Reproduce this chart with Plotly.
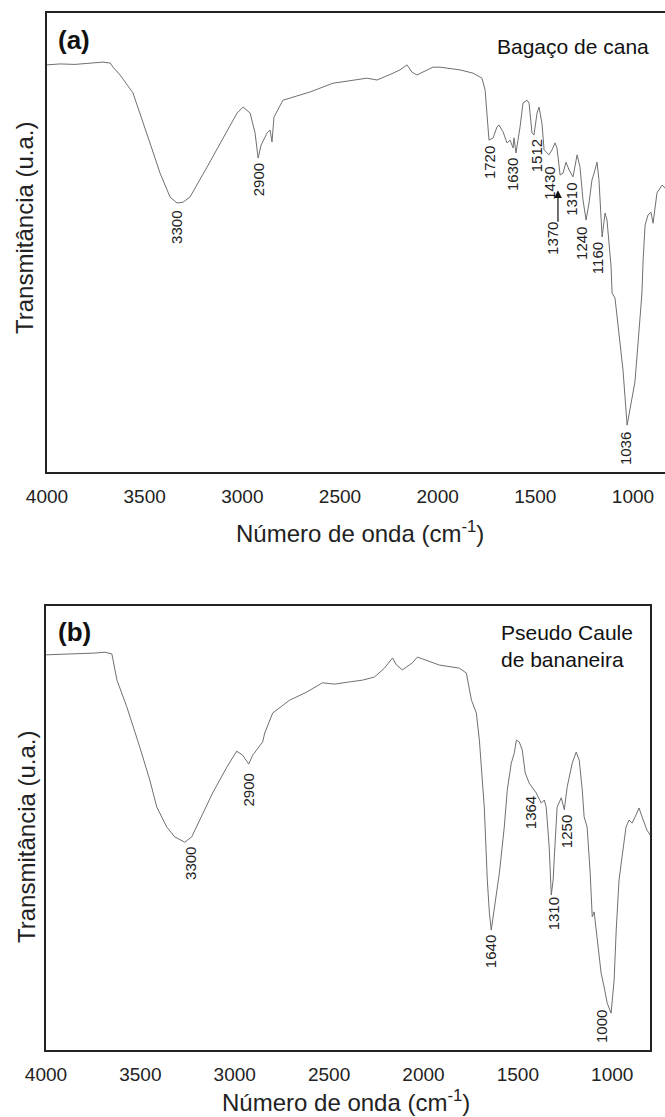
import plotly.graph_objects as go

# ---------------- data ----------------
# (a) Bagaço de cana : wavenumber (cm-1) and transmittance (u.a.)
top_wn = [4000, 3933, 3857, 3780, 3713, 3677, 3662, 3626, 3560, 3473, 3421, 3370, 3334, 3303,
          3268, 3181, 3078, 3027, 2996, 2960, 2935, 2919, 2904, 2873, 2858, 2848, 2838, 2792,
          2653, 2536, 2362, 2310, 2228, 2193, 2157, 2131, 2106, 2065, 2024, 1988, 1885, 1819,
          1773, 1757, 1737, 1716, 1696, 1686, 1665, 1645, 1629, 1614, 1609, 1599, 1578, 1563,
          1542, 1532, 1517, 1507, 1491, 1481, 1466, 1455, 1440, 1430, 1414, 1399, 1389, 1373,
          1358, 1343, 1327, 1307, 1286, 1271, 1256, 1240, 1225, 1210, 1199, 1184, 1174, 1158,
          1143, 1133, 1112, 1107, 1092, 1076, 1051, 1030, 1010, 990, 974, 954, 948, 938, 923,
          908, 897, 877, 851, 836, 821]
top_T = [88.7, 88.9, 88.8, 89.0, 89.3, 89.1, 88.2, 86.5, 82.6, 71.7, 65.1, 59.9, 58.6, 58.8,
         59.9, 66.4, 74.5, 78.2, 79.5, 78.2, 73.9, 68.4, 71.2, 73.9, 74.5, 71.9, 77.3, 81.0,
         82.8, 84.7, 85.8, 85.4, 86.9, 87.6, 88.7, 87.1, 86.5, 87.4, 88.2, 88.2, 87.6, 86.9,
         85.8, 83.2, 72.3, 72.8, 75.2, 75.6, 74.1, 71.7, 72.3, 70.6, 72.8, 69.5, 75.2, 80.4,
         81.0, 80.4, 73.9, 73.4, 78.2, 79.5, 76.0, 70.2, 69.5, 69.1, 70.2, 71.7, 70.6, 64.7,
         65.1, 67.5, 65.8, 64.3, 69.1, 66.4, 59.3, 54.9, 58.6, 63.6, 65.1, 67.5, 63.6, 51.2,
         56.4, 54.9, 44.7, 39.0, 37.9, 31.6, 22.2, 10.2, 15.0, 19.6, 28.1, 39.0, 46.2, 53.8, 56.0,
         56.6, 54.2, 60.8, 62.5, 61.9, 61.0]

# (b) Pseudo caule de bananeira
bot_wn = [4000, 3926, 3820, 3741, 3688, 3651, 3624, 3572, 3503, 3450, 3413, 3360, 3318, 3265,
          3228, 3185, 3117, 3042, 2990, 2958, 2926, 2905, 2868, 2852, 2841, 2799, 2709, 2619,
          2535, 2471, 2392, 2323, 2260, 2207, 2164, 2143, 2112, 2059, 2032, 1984, 1916, 1810,
          1773, 1746, 1720, 1704, 1678, 1662, 1651, 1641, 1625, 1614, 1598, 1572, 1556, 1535,
          1519, 1508, 1493, 1477, 1461, 1440, 1403, 1376, 1360, 1350, 1334, 1323, 1313, 1307,
          1292, 1270, 1254, 1239, 1212, 1191, 1175, 1159, 1149, 1133, 1117, 1106, 1096, 1085,
          1059, 1043, 1027, 1006, 990, 979, 964, 948, 927, 911, 895, 879, 858, 842, 816, 806, 800]
bot_T = [89.0, 89.1, 89.2, 89.4, 89.6, 89.2, 83.3, 77.3, 68.2, 60.8, 54.7, 50.2, 48.0, 46.8,
         48.0, 51.8, 57.9, 63.7, 67.3, 66.4, 64.4, 66.4, 68.7, 69.4, 71.4, 75.9, 78.8, 80.6,
         82.7, 82.4, 82.9, 83.3, 84.0, 86.0, 88.3, 86.7, 85.6, 87.2, 88.5, 87.8, 86.7, 86.0,
         84.9, 78.8, 75.9, 69.8, 54.7, 38.3, 30.9, 27.0, 32.2, 35.4, 39.9, 50.2, 58.6, 64.6,
         66.9, 69.8, 69.4, 67.6, 62.4, 60.1, 57.9, 55.6, 56.3, 54.7, 45.7, 34.9, 38.3, 43.5,
         54.7, 56.8, 54.1, 59.2, 64.6, 67.1, 65.3, 58.6, 52.5, 50.2, 39.9, 30.0, 31.1, 27.0,
         17.3, 14.2, 10.6, 8.3, 15.8, 27.0, 38.3, 43.5, 50.2, 51.8, 51.1, 52.5, 54.5, 52.5,
         49.5, 48.9, 48.4]

# peak labels: text, wavenumber where written, transmittance where written
top_peak_text = ["3300", "2900", "1720", "1630", "1512", "1430", "1370", "1310", "1240", "1160", "1036"]
top_peak_wn = [3334, 2919, 1737, 1619, 1496, 1425, 1409, 1312, 1261, 1184, 1041]
top_peak_T = [53.2, 63.6, 67.3, 64.7, 68.8, 63.0, 50.8, 59.3, 49.9, 46.6, 5.2]
arrow_1370 = (1384, 61.4)

bot_peak_text = ["3300", "2900", "1640", "1364", "1310", "1250", "1000"]
bot_peak_wn = [3238, 2926, 1641, 1429, 1313, 1239, 1054]
bot_peak_T = [42.1, 58.6, 22.1, 53.4, 30.6, 49.1, 5.2]

tick_vals = [4000, 3500, 3000, 2500, 2000, 1500, 1000]
tick_text = ["4000", "3500", "3000", "2500", "2000", "1500", "1000"]

x_title = "Número de onda (cm<sup>-1</sup>)"
y_title = "Transmitância (u.a.)"

# ---------------- figure ----------------
W, H = 665, 1117
FONT = "Liberation Sans, Arial, sans-serif"
LINE = "#707070"
TXT = "#222222"

def py(p):  # pixel row -> paper y
    return 1 - p / H

def px(p):
    return p / W

fig = go.Figure()
fig.add_trace(go.Scatter(x=top_wn, y=top_T, mode="lines", line=dict(color=LINE, width=1),
                         xaxis="x", yaxis="y", showlegend=False))
fig.add_trace(go.Scatter(x=bot_wn, y=bot_T, mode="lines", line=dict(color=LINE, width=1),
                         xaxis="x2", yaxis="y2", showlegend=False))

ax_common = dict(showgrid=False, zeroline=False, showline=True, linewidth=2, linecolor="#222",
                 tickvals=tick_vals, ticktext=tick_text, ticks="outside", ticklen=6,
                 tickcolor="rgba(0,0,0,0)", automargin=False,
                 tickfont=dict(family=FONT, size=19, color=TXT))
ay_common = dict(range=[0, 100], showgrid=False, zeroline=False, showline=True, linewidth=2,
                 linecolor="#222", showticklabels=False, ticks="", automargin=False)
fig.update_layout(
    width=W, height=H, margin=dict(l=0, r=0, t=0, b=0, autoexpand=False),
    paper_bgcolor="white", plot_bgcolor="white",
    xaxis=dict(domain=[px(47), 1.0], range=[4000, 836], mirror=True, anchor="y", **ax_common),
    yaxis=dict(domain=[py(472), py(13)], anchor="x", **ay_common),
    xaxis2=dict(domain=[px(46), px(650)], range=[4000, 800], mirror=True, anchor="y2", **ax_common),
    yaxis2=dict(domain=[py(1050), py(606)], mirror=True, anchor="x2", **ay_common),
)

ann = []
PK = 15
# peak labels
for t, x, y in zip(top_peak_text, top_peak_wn, top_peak_T):
    ann.append(dict(x=x, y=y, xref="x", yref="y", text=t, showarrow=False, textangle=-90,
                    font=dict(family=FONT, size=PK, color=TXT)))
ann.append(dict(x=arrow_1370[0], y=arrow_1370[1], xref="x", yref="y", text="", showarrow=True,
                ax=0, ay=33, arrowhead=2, arrowsize=1.3, arrowwidth=1.2, arrowcolor="#111"))
for t, x, y in zip(bot_peak_text, bot_peak_wn, bot_peak_T):
    ann.append(dict(x=x, y=y, xref="x2", yref="y2", text=t, showarrow=False, textangle=-90,
                    font=dict(family=FONT, size=PK, color=TXT)))

# panel letters and sample names
ann.append(dict(x=px(56), y=py(40), xref="paper", yref="paper", text="<b>(a)</b>", showarrow=False,
                xanchor="left", yanchor="middle", font=dict(family=FONT, size=26, color="#111")))
ann.append(dict(x=px(56), y=py(632), xref="paper", yref="paper", text="<b>(b)</b>", showarrow=False,
                xanchor="left", yanchor="middle", font=dict(family=FONT, size=26, color="#111")))
ann.append(dict(x=px(651), y=py(46), xref="paper", yref="paper", text="Bagaço de cana",
                showarrow=False, xanchor="right", yanchor="middle",
                font=dict(family=FONT, size=21, color="#111")))
ann.append(dict(x=px(499), y=py(646), xref="paper", yref="paper",
                text="Pseudo Caule<br>de bananeira", showarrow=False, xanchor="left",
                yanchor="middle", align="left", font=dict(family=FONT, size=21, color="#111")))

# axis titles
ann.append(dict(x=px(360), y=py(532), xref="paper", yref="paper", text=x_title, showarrow=False,
                xanchor="center", yanchor="middle", font=dict(family=FONT, size=24, color=TXT)))
ann.append(dict(x=px(346), y=py(1101), xref="paper", yref="paper", text=x_title, showarrow=False,
                xanchor="center", yanchor="middle", font=dict(family=FONT, size=24, color=TXT)))
ann.append(dict(x=px(24), y=py(228), xref="paper", yref="paper", text=y_title, showarrow=False,
                textangle=-90, xanchor="center", yanchor="middle",
                font=dict(family=FONT, size=24, color=TXT)))
ann.append(dict(x=px(26), y=py(837), xref="paper", yref="paper", text=y_title, showarrow=False,
                textangle=-90, xanchor="center", yanchor="middle",
                font=dict(family=FONT, size=24, color=TXT)))

fig.update_layout(annotations=ann)
fig.write_html("out.html", config={"displayModeBar": False},
               post_script="document.body.style.margin='0px';document.body.style.overflow='hidden';")
